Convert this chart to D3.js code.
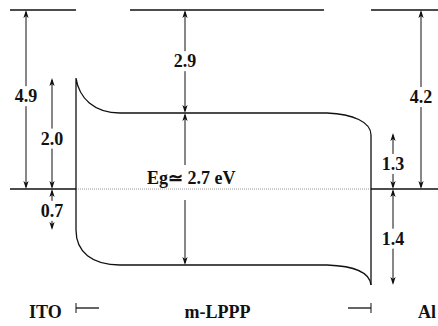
<!DOCTYPE html>
<html>
<head>
<meta charset="utf-8">
<script src="https://cdn.jsdelivr.net/npm/d3@7"></script>
<style>
  html, body { margin: 0; padding: 0; background: #fff; }
</style>
</head>
<body>
<div id="chart"></div>
<script>
// energy diagram ITO / m-LPPP / Al (schematic, not to scale)

// named energy levels, top to bottom
const LEVELS = ["vacuum", "lumoITO", "lumo", "lumoAl", "fermi", "homoITO", "homo", "homoAl"];

// the arrows: printed value, the two levels it spans, and which column it sits in
const ARROW_LABELS = ["4.9", "2.0", "0.7", "2.9", "Eg\u2243 2.7 eV", "1.3", "1.4", "4.2"];
const ARROW_FROM   = ["vacuum", "lumoITO", "fermi", "vacuum", "lumo", "lumoAl", "fermi", "vacuum"];
const ARROW_TO     = ["fermi", "fermi", "homoITO", "lumo", "homo", "fermi", "homoAl", "fermi"];
const ARROW_COL    = ["itoOuter", "itoInner", "itoInner", "gap", "gap", "alInner", "alInner", "alOuter"];

const LAYER_LABELS = ["ITO", "m-LPPP", "Al"];

// pick the first serif face that is really installed
function pickFont(cands) {
  const ctx = document.createElement("canvas").getContext("2d");
  const probe = "mmmWWIil10.7ITO";
  const w = f => { ctx.font = "bold 40px " + f; return ctx.measureText(probe).width; };
  const mono = w("monospace"), sans = w("sans-serif");
  for (const c of cands) {
    const a = w(`'${c}', monospace`), b = w(`'${c}', sans-serif`);
    if (a !== mono || b !== sans) return `'${c}', serif`;
  }
  return "serif";
}
const FONT = pickFont(["Liberation Serif", "Times New Roman", "Tinos", "DejaVu Serif", "Noto Serif", "FreeSerif"]);

// layout
const W = 438, H = 326;
const y = d3.scaleOrdinal().domain(LEVELS).range([10, 78, 113, 133, 189, 230, 265, 285]);
const COLS = ["left", "itoOuter", "itoInner", "ito", "bulkL", "vacL", "gap", "vacR", "bulkR", "al", "alInner", "alOuter", "right"];
const x = d3.scaleOrdinal().domain(COLS).range([10, 26, 52, 76, 120, 130, 185, 324, 327, 371, 393, 421, 438]);
// where the label baseline sits along each arrow (0 = top end, 1 = bottom end)
const LABEL_AT = [0.515, 0.6, 0.68, 0.555, 0, 0.66, 0.58, 0.52];

const svg = d3.select("#chart").append("svg").attr("width", W).attr("height", H);
svg.append("rect").attr("width", W).attr("height", H).attr("fill", "#fff");

function hline(x1, x2, yy, sw) {
  svg.append("line").attr("x1", x1).attr("x2", x2).attr("y1", yy).attr("y2", yy)
    .attr("stroke", "#111").attr("stroke-width", sw);
}
function label(tx, ty, anchor, s) {
  svg.append("text").attr("x", tx).attr("y", ty).attr("text-anchor", anchor)
    .style("font-family", FONT).style("font-weight", "bold").style("font-size", "18px")
    .attr("fill", "#111").text(s);
}

// vacuum level pieces
hline(x("left"), x("ito"), y("vacuum"), 1.6);
hline(x("vacL"), x("vacR"), y("vacuum"), 1.6);
hline(x("al"), x("right"), y("vacuum"), 1.6);

// Fermi level: solid in the electrodes, dotted through the polymer
hline(x("left"), x("ito"), y("fermi"), 1.4);
hline(x("al"), x("right"), y("fermi"), 1.4);
svg.append("line").attr("x1", x("ito")).attr("x2", x("al")).attr("y1", y("fermi")).attr("y2", y("fermi"))
  .attr("stroke", "#999").attr("stroke-width", 1).attr("stroke-dasharray", "1,1");

// LUMO and HOMO with band bending at both contacts
const path = d3.path();
path.moveTo(x("ito"), y("homoITO"));
path.lineTo(x("ito"), y("lumoITO"));
path.bezierCurveTo(x("ito") + 3, y("lumoITO") + 20, x("ito") + 18, y("lumo"), x("bulkL"), y("lumo"));
path.lineTo(x("bulkR"), y("lumo"));
path.bezierCurveTo(x("bulkR") + 26, y("lumo") + 1, x("al"), y("lumo") + 9, x("al"), y("lumoAl") + 2);
path.lineTo(x("al"), y("homoAl"));
svg.append("path").attr("d", path.toString()).attr("fill", "none").attr("stroke", "#111").attr("stroke-width", 1.3);

const path2 = d3.path();
path2.moveTo(x("ito"), y("homoITO"));
path2.bezierCurveTo(x("ito"), y("homoITO") + 22, x("ito") + 16, y("homo"), x("bulkL"), y("homo"));
path2.lineTo(x("bulkR"), y("homo"));
path2.bezierCurveTo(x("bulkR") + 28, y("homo") + 1, x("al") - 1, y("homo") + 8, x("al"), y("homoAl"));
svg.append("path").attr("d", path2.toString()).attr("fill", "none").attr("stroke", "#111").attr("stroke-width", 1.3);

// arrowheads
function head(cx, tip, dir) {
  // dir = -1 points up, +1 points down
  const b = tip - dir * 8, n = tip - dir * 6;
  svg.append("path").attr("d", `M${cx},${tip} L${cx + 2.6},${b} L${cx},${n} L${cx - 2.6},${b} Z`).attr("fill", "#111");
}
function vseg(cx, y1, y2) {
  if (y2 - y1 < 0.5) return;
  svg.append("line").attr("x1", cx).attr("x2", cx).attr("y1", y1).attr("y2", y2)
    .attr("stroke", "#111").attr("stroke-width", 1);
}

ARROW_LABELS.forEach((lab, i) => {
  const cx = x(ARROW_COL[i]);
  const top = y(ARROW_FROM[i]), bot = y(ARROW_TO[i]);
  let base, gapTop, gapBot, tx, anchor;
  if (i === 4) {
    // band-gap label sits just above the Fermi level, across the arrow
    base = y("fermi") - 5; gapTop = base - 19; gapBot = y("fermi") + 11;
    tx = cx - 38; anchor = "start";
  } else {
    base = top + (bot - top) * LABEL_AT[i]; gapTop = base - 16; gapBot = base + 4;
    tx = cx; anchor = "middle";
  }
  vseg(cx, top + 2, gapTop);
  vseg(cx, gapBot, bot - 2);
  head(cx, top, -1);
  head(cx, bot, 1);
  label(tx, base, anchor, lab);
});

// layer labels with thickness markers
const ly = 318, my = 308;
label(29, ly, "start", LAYER_LABELS[0]);
label((x("ito") + x("al")) / 2 - 6, ly, "middle", LAYER_LABELS[1]);
label(418, ly, "start", LAYER_LABELS[2]);

hline(x("ito"), x("ito") + 23, my, 1.3);
hline(x("al") - 23, x("al"), my, 1.3);
vseg(x("ito"), my - 5, my + 5);
vseg(x("al"), my - 5, my + 5);
</script>
</body>
</html>
